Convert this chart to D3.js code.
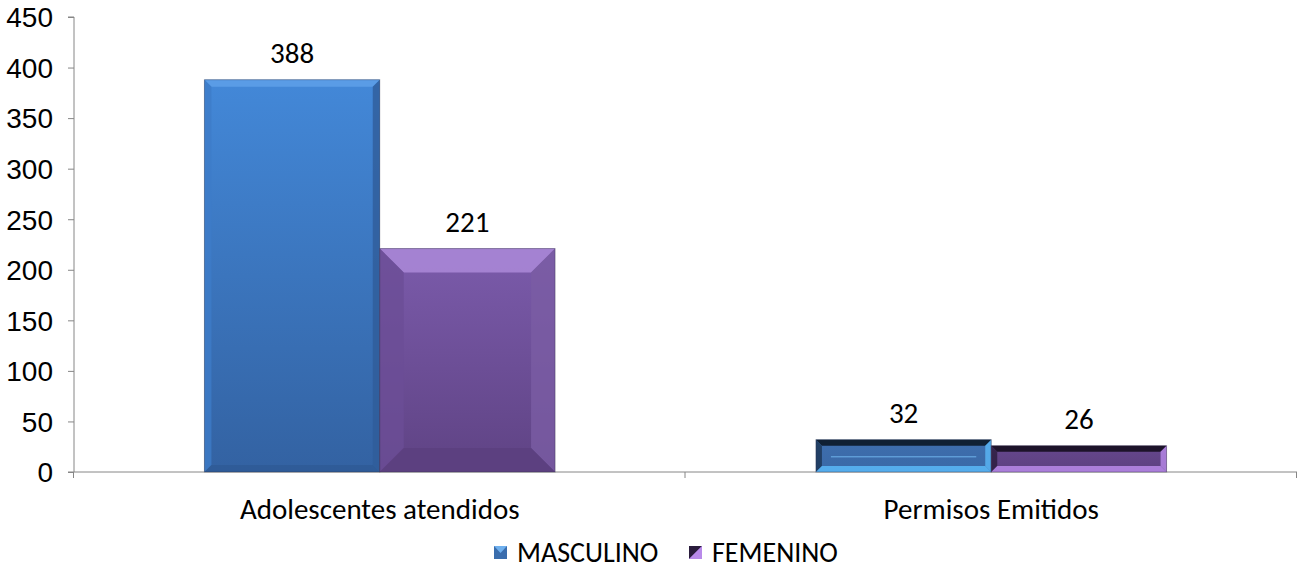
<!DOCTYPE html>
<html>
<head>
<meta charset="utf-8">
<script src="https://cdn.jsdelivr.net/npm/d3@7"></script>
<style>
  html, body { margin: 0; padding: 0; background: #fff; }
  svg { display: block; font-family: Calibri, Carlito, Lato, "Open Sans", sans-serif; }
  .tick-label { font-size: 28px; fill: #000; }
  .cat-label { font-size: 29px; fill: #000; }
  .value-label { font-size: 29px; fill: #000; }
  .legend-label { font-size: 28px; fill: #000; }
</style>
</head>
<body>
<svg id="chart" width="1298" height="577"></svg>
<script>
const categories = ["Adolescentes atendidos", "Permisos Emitidos"];
const seriesNames = ["MASCULINO", "FEMENINO"];
const masculino = [388, 32];
const femenino = [221, 26];
const yTicks = [0, 50, 100, 150, 200, 250, 300, 350, 400, 450];

const svg = d3.select("#chart");
const margin = { top: 17, right: 1, bottom: 105, left: 74 };
const width = 1298;
const height = 577;
const axisColor = "#868686";

const x0 = d3.scaleBand()
  .domain(categories)
  .range([margin.left, width - margin.right])
  .padding(0);

const x1 = d3.scaleBand()
  .domain(seriesNames)
  .range([0, x0.bandwidth()])
  .paddingInner(0)
  .paddingOuter(0.744);

const y = d3.scaleLinear()
  .domain([0, 450])
  .range([height - margin.bottom, margin.top]);

const rows = [];
categories.forEach((cat, i) => {
  rows.push({ cat, series: "MASCULINO", value: masculino[i], idx: i });
  rows.push({ cat, series: "FEMENINO", value: femenino[i], idx: i });
});

// colour sets per series: face top/bottom, bevel top/left/right/bottom
const styles = {
  MASCULINO: [
    { faceTop: "#4388d8", faceBottom: "#3362a2", top: "#5d9ee8", left: "#3d7cc8", right: "#2f5d9a", bottom: "#2f5b96", bevel: 7 },
    { faceTop: "#3e6ead", faceBottom: "#3a69a7", top: "#0b1726", left: "#1b3554", right: "#5ab8f8", bottom: "#5ab8f8", bevel: 6 }
  ],
  FEMENINO: [
    { faceTop: "#7b5bab", faceBottom: "#5f4384", top: "#a886d6", left: "#6c4e96", right: "#7a5ca4", bottom: "#5c407f", bevel: 24 },
    { faceTop: "#66478e", faceBottom: "#5c407f", top: "#150d1f", left: "#2a1c3c", right: "#b98aea", bottom: "#b98aea", bevel: 6 }
  ]
};

const defs = svg.append("defs");
Object.keys(styles).forEach((s) => {
  styles[s].forEach((st, i) => {
    const g = defs.append("linearGradient")
      .attr("id", `face-${s}-${i}`)
      .attr("x1", 0).attr("y1", 0).attr("x2", 0).attr("y2", 1);
    g.append("stop").attr("offset", "0%").attr("stop-color", st.faceTop);
    g.append("stop").attr("offset", "100%").attr("stop-color", st.faceBottom);
  });
});

// axes
const gy = svg.append("g")
  .attr("transform", `translate(${margin.left},0)`)
  .call(d3.axisLeft(y).tickValues(yTicks).tickSize(6).tickPadding(15));
gy.select(".domain").attr("stroke", axisColor).attr("d", `M-6,${y(450)}H0V${y(0)}`);
gy.selectAll(".tick line").attr("stroke", axisColor);
gy.selectAll(".tick text").attr("class", "tick-label").attr("fill", "#000")
  .style("font-size", "28px").attr("dy", "0.35em");

const gx = svg.append("g")
  .attr("transform", `translate(0,${y(0)})`);
gx.append("line")
  .attr("x1", margin.left - 6).attr("x2", width - margin.right)
  .attr("stroke", axisColor);
const bounds = [margin.left, ...categories.map((c) => x0(c) + x0.bandwidth())];
gx.selectAll(".xtick")
  .data(bounds)
  .join("line")
  .attr("x1", (d) => d - 0.5).attr("x2", (d) => d - 0.5)
  .attr("y1", 0).attr("y2", 6)
  .attr("stroke", axisColor);
gx.selectAll(".cat-label")
  .data(categories)
  .join("text")
  .attr("class", "cat-label")
  .attr("x", (d) => x0(d) + x0.bandwidth() / 2)
  .attr("y", 47)
  .attr("text-anchor", "middle")
  .text((d) => d);

// bevelled bars
function drawBar(g, bx, by, bw, bh, st, fillId) {
  const b = Math.min(st.bevel, bw / 2, bh / 2);
  g.append("rect").attr("x", bx).attr("y", by).attr("width", bw).attr("height", bh)
    .attr("fill", `url(#${fillId})`);
  const poly = (pts, c, op) => g.append("polygon")
    .attr("points", pts.map((p) => p.join(",")).join(" "))
    .attr("fill", c).attr("opacity", op);
  poly([[bx, by], [bx + bw, by], [bx + bw - b, by + b], [bx + b, by + b]], st.top, 0.9);
  poly([[bx, by], [bx + b, by + b], [bx + b, by + bh - b], [bx, by + bh]], st.left, 0.8);
  poly([[bx + bw, by], [bx + bw, by + bh], [bx + bw - b, by + bh - b], [bx + bw - b, by + b]], st.right, 0.8);
  poly([[bx, by + bh], [bx + b, by + bh - b], [bx + bw - b, by + bh - b], [bx + bw, by + bh]], st.bottom, 0.85);
  g.append("rect").attr("x", bx).attr("y", by).attr("width", bw).attr("height", bh)
    .attr("fill", "none").attr("stroke", "rgba(40,40,60,0.35)").attr("stroke-width", 1);
}

const barsG = svg.append("g");
rows.forEach((d) => {
  const bx = x0(d.cat) + x1(d.series);
  const bw = x1.bandwidth();
  const by = y(d.value);
  const bh = y(0) - by;
  const st = styles[d.series][d.idx];
  const g = barsG.append("g");
  drawBar(g, bx, by, bw, bh, st, `face-${d.series}-${d.idx}`);
  if (d.idx === 1 && d.series === "MASCULINO") {
    g.append("line")
      .attr("x1", bx + 15).attr("x2", bx + bw - 15)
      .attr("y1", by + bh / 2 + 1).attr("y2", by + bh / 2 + 1)
      .attr("stroke", "#6fb4ec").attr("stroke-width", 1);
  }
});

svg.append("g").selectAll(".value-label")
  .data(rows)
  .join("text")
  .attr("class", "value-label")
  .attr("x", (d) => x0(d.cat) + x1(d.series) + x1.bandwidth() / 2)
  .attr("y", (d) => y(d.value) - 17)
  .attr("text-anchor", "middle")
  .text((d) => d.value);

// legend
const legendItems = [
  { name: "MASCULINO", x: 494, top: "#6fb0ee", bottom: "#3565a5" },
  { name: "FEMENINO", x: 689, top: "#2a1c3c", bottom: "#b98aea" }
];
const lg = svg.append("g").attr("transform", "translate(0,552)");
legendItems.forEach((it, i) => {
  const g = lg.append("g").attr("transform", `translate(${it.x},0)`);
  g.append("rect").attr("x", 0).attr("y", -6).attr("width", 13).attr("height", 13)
    .attr("fill", i === 0 ? "#3a6dad" : "#7a5aa8");
  if (i === 0) {
    g.append("polygon").attr("points", "0,-6 13,-6 6.5,1").attr("fill", it.top);
  } else {
    g.append("polygon").attr("points", "0,-6 13,-6 0,7").attr("fill", it.top);
    g.append("polygon").attr("points", "13,-6 13,7 0,7").attr("fill", it.bottom);
  }
  g.append("text").attr("class", "legend-label")
    .attr("x", 23).attr("y", 0).attr("dy", "0.35em")
    .text(it.name);
});
</script>
</body>
</html>
